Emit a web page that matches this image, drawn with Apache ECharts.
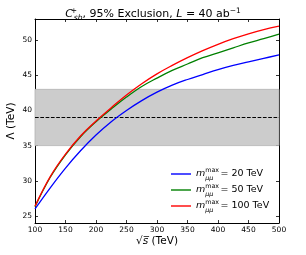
<!DOCTYPE html>
<html>
<head>
<meta charset="utf-8">
<script src="https://cdn.jsdelivr.net/npm/echarts@6/dist/echarts.min.js"></script>
<style>html,body{margin:0;padding:0;background:#fff;}#c{width:306px;height:255px;}</style>
</head>
<body>
<div id="c"></div>
<script>
// ---- data ----
const sqrtS = [100,125,150,175,200,225,250,275,300,325,350,375,400,425,450,475,500];
const lambda20  = [26.0,29.0,31.8,34.3,36.5,38.4,40.0,41.4,42.6,43.6,44.4,45.1,45.8,46.4,46.9,47.4,47.9];
const lambda50  = [26.3,30.5,33.7,36.3,38.4,40.2,41.9,43.4,44.6,45.7,46.6,47.5,48.2,48.9,49.6,50.2,50.85];
const lambda100 = [26.4,30.6,33.8,36.4,38.5,40.4,42.2,43.8,45.2,46.4,47.5,48.5,49.4,50.2,50.9,51.5,52.0];
const mMaxValues = [20, 50, 100];
const xTicks = [100,150,200,250,300,350,400,450,500];
const yTicks = [25,30,35,40,45,50];
const bandRange = [35, 43];
const refLine = 39;

const FONT = 'DejaVu Sans';
const colors = ['#0000ff', '#008000', '#ff0000'];
const seriesValues = [lambda20, lambda50, lambda100];

const chart = echarts.init(document.getElementById('c'), null, {renderer: 'canvas'});

function pairs(ys) { return sqrtS.map((x, i) => [x, ys[i]]); }

const axisCommon = {
  axisLine: {show: true, onZero: false, lineStyle: {color: '#000', width: 1}},
  axisTick: {show: true, inside: true, length: 3, lineStyle: {color: '#000', width: 0.8}},
  splitLine: {show: false},
  axisLabel: {fontSize: 7.5, color: '#000', fontFamily: FONT, margin: 3}
};

const lineSeries = mMaxValues.map((m, i) => ({
  name: String(m),
  type: 'line',
  data: pairs(seriesValues[i]),
  showSymbol: false,
  symbol: 'none',
  smooth: 0.4,
  z: 5,
  lineStyle: {color: colors[i], width: 1.3},
  itemStyle: {color: colors[i]},
  silent: true
}));

const option = {
  animation: false,
  backgroundColor: '#fff',
  title: {
    text: '{c|C}{sup|+}{sub|sb}{t|, 95% Exclusion, }{i|L}{t| = 40 ab}{sup2|−1}',
    left: 'center',
    top: 2,
    textStyle: {
      fontFamily: FONT, fontSize: 11, fontWeight: 'normal', color: '#000',
      rich: {
        c: {fontFamily: FONT, fontSize: 11, fontStyle: 'italic', lineHeight: 15, color: '#000'},
        sup: {fontFamily: FONT, fontSize: 7.5, lineHeight: 9, verticalAlign: 'top', width: 0, align: 'left', color: '#000', padding: [0, 0, 0, 1]},
        sub: {fontFamily: FONT, fontSize: 7.5, fontStyle: 'italic', lineHeight: 9, verticalAlign: 'bottom', color: '#000'},
        t: {fontFamily: FONT, fontSize: 11, lineHeight: 15, color: '#000'},
        i: {fontFamily: FONT, fontSize: 11, fontStyle: 'italic', lineHeight: 15, color: '#000'},
        sup2: {fontFamily: FONT, fontSize: 7.5, lineHeight: 9, verticalAlign: 'top', color: '#000'}
      }
    }
  },
  grid: {left: 35, right: 27, top: 19, bottom: 32, containLabel: false, outerBoundsMode: 'none'},
  xAxis: [
    Object.assign({}, axisCommon, {
      type: 'value', min: 100, max: 500, interval: 50, position: 'bottom',
      name: '{r|√}{s|s̅}{t| (TeV)}',
      nameLocation: 'middle', nameGap: 13, nameMoveOverlap: false,
      nameTextStyle: {
        fontFamily: FONT, fontSize: 10.5, color: '#000',
        rich: {
          r: {fontFamily: FONT, fontSize: 10.5, color: '#000'},
          s: {fontFamily: FONT, fontSize: 10.5, fontStyle: 'italic', color: '#000'},
          t: {fontFamily: FONT, fontSize: 10.5, color: '#000'}
        }
      }
    }),
    Object.assign({}, axisCommon, {
      type: 'value', min: 100, max: 500, interval: 50, position: 'top',
      axisLabel: {show: false}
    })
  ],
  yAxis: [
    Object.assign({}, axisCommon, {
      type: 'value', min: 24, max: 53, position: 'left',
      axisLabel: Object.assign({}, axisCommon.axisLabel, {customValues: yTicks}),
      axisTick: Object.assign({}, axisCommon.axisTick, {customValues: yTicks}),
      name: 'Λ (TeV)', nameLocation: 'middle', nameGap: 18, nameRotate: 90, nameMoveOverlap: false,
      nameTextStyle: {fontFamily: FONT, fontSize: 10.5, color: '#000'}
    }),
    Object.assign({}, axisCommon, {
      type: 'value', min: 24, max: 53, position: 'right',
      axisLabel: {show: false, customValues: yTicks},
      axisTick: Object.assign({}, axisCommon.axisTick, {customValues: yTicks})
    })
  ],
  legend: {
    orient: 'vertical',
    left: 166, top: 162,
    itemWidth: 20, itemHeight: 10, itemGap: 2,
    formatter: function (name) {
      return '{m|m}{sub|μμ}{sup|max}{t|= ' + name + ' TeV}';
    },
    textStyle: {
      fontFamily: FONT, fontSize: 9, color: '#000',
      rich: {
        m: {fontFamily: FONT, fontSize: 9.5, fontStyle: 'italic', lineHeight: 14, color: '#000'},
        sub: {fontFamily: FONT, fontSize: 6.3, fontStyle: 'italic', lineHeight: 8, verticalAlign: 'bottom', width: 0, align: 'left', color: '#000'},
        sup: {fontFamily: FONT, fontSize: 6.3, lineHeight: 8, verticalAlign: 'top', color: '#000'},
        t: {fontFamily: FONT, fontSize: 9.5, lineHeight: 14, color: '#000', padding: [0, 0, 0, 1.5]}
      }
    },
    selectedMode: false
  },
  series: [
    {
      name: 'band',
      type: 'line',
      data: [],
      z: 1,
      silent: true,
      markArea: {
        silent: true,
        itemStyle: {color: '#cccccc', borderColor: '#b3b3b3', borderWidth: 0.8},
        data: [[{yAxis: bandRange[0]}, {yAxis: bandRange[1]}]]
      },
      markLine: {
        silent: true,
        symbol: 'none',
        label: {show: false},
        lineStyle: {color: '#000', type: [3.7, 1.6], width: 1.2},
        data: [{yAxis: refLine}]
      }
    }
  ].concat(lineSeries)
};

// legend icons as thin lines in each series color
option.legend.data = mMaxValues.map((m, i) => ({
  name: String(m),
  icon: 'path://M0,0 L20,0 L20,1.4 L0,1.4 Z',
  itemStyle: {color: colors[i]}
}));

chart.setOption(option);
</script>
</body>
</html>
